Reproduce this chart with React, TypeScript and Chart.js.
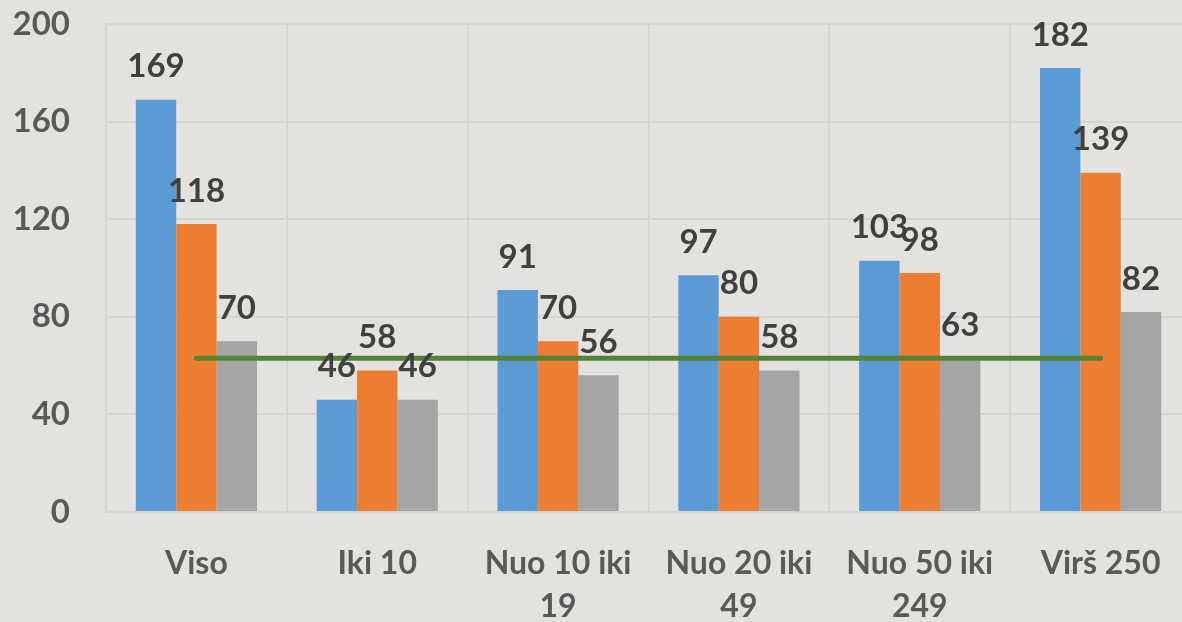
import React, { useEffect, useRef } from "react";
import { Chart, registerables } from "chart.js";

Chart.register(...registerables);

const categories: (string | string[])[] = [
  "Viso",
  "Iki 10",
  ["Nuo 10 iki", "19"],
  ["Nuo 20 iki", "49"],
  ["Nuo 50 iki", "249"],
  "Virš 250",
];
const seriesBlue = [169, 46, 91, 97, 103, 182];
const seriesOrange = [118, 58, 70, 80, 98, 139];
const seriesGray = [70, 46, 56, 58, 63, 82];
const averageLine = [63, 63, 63, 63, 63, 63];
const yTicks = [0, 40, 80, 120, 160, 200];

const FONT = "Lato, 'Open Sans', sans-serif";

const labelPlugin = {
  id: "barValueLabels",
  afterDatasetsDraw(chart: any) {
    const ctx = chart.ctx;
    ctx.save();
    ctx.font = `bold 33px ${FONT}`;
    ctx.fillStyle = "#404040";
    ctx.textAlign = "center";
    ctx.textBaseline = "middle";
    chart.data.datasets.forEach((ds: any, i: number) => {
      if (ds.type === "line") return;
      const meta = chart.getDatasetMeta(i);
      meta.data.forEach((bar: any, j: number) => {
        ctx.fillText(String(ds.data[j]), bar.x, bar.y - 33);
      });
    });
    ctx.restore();
  },
};

export default function App() {
  const ref = useRef<HTMLCanvasElement | null>(null);
  useEffect(() => {
    document.body.style.margin = "0";
    const chart = new Chart(ref.current!, {
      type: "bar",
      data: {
        labels: categories,
        datasets: [
          {
            type: "line",
            data: averageLine,
            borderColor: "#548235",
            borderWidth: 5,
            borderCapStyle: "round",
            pointRadius: 0,
            order: 0,
          } as any,
          { data: seriesBlue, backgroundColor: "#5B9BD5", order: 1 },
          { data: seriesOrange, backgroundColor: "#ED7D31", order: 1 },
          { data: seriesGray, backgroundColor: "#A5A5A5", order: 1 },
        ],
      },
      options: {
        animation: false,
        responsive: false,
        maintainAspectRatio: false,
        layout: { padding: { top: 24, right: 9, left: 0, bottom: 0 } },
        plugins: { legend: { display: false }, tooltip: { enabled: false } },
        datasets: { bar: { categoryPercentage: 0.67, barPercentage: 1 } },
        scales: {
          x: {
            grid: { color: "#d6d5d1", lineWidth: 2, drawTicks: false },
            border: { color: "#d6d5d1", width: 2 },
            ticks: {
              color: "#595959",
              font: { family: FONT, size: 32, weight: "bold", lineHeight: 1.35 },
              padding: 30,
              maxRotation: 0,
              autoSkip: false,
            },
            afterFit: (s: any) => {
              s.height = 110;
              s.paddingLeft = 0;
              s.paddingRight = 0;
            },
          },
          y: {
            min: 0,
            max: 200,
            afterBuildTicks: (s: any) => {
              s.ticks = yTicks.map((v) => ({ value: v }));
            },
            grid: { color: "#d6d5d1", lineWidth: 2, drawTicks: false },
            border: { display: false },
            ticks: {
              color: "#595959",
              font: { family: FONT, size: 33, weight: "bold" },
              padding: 36,
            },
            afterFit: (s: any) => {
              s.width = 106;
              s.paddingTop = 0;
              s.paddingBottom = 0;
            },
          },
        },
      },
      plugins: [labelPlugin],
    });
    return () => chart.destroy();
  }, []);
  return (
    <div
      style={{
        position: "fixed",
        left: 0,
        top: 0,
        width: 1182,
        height: 622,
        overflow: "hidden",
        background: "#e3e2de",
      }}
    >
      <canvas ref={ref} width={1200} height={622} style={{ display: "block" }} />
    </div>
  );
}
